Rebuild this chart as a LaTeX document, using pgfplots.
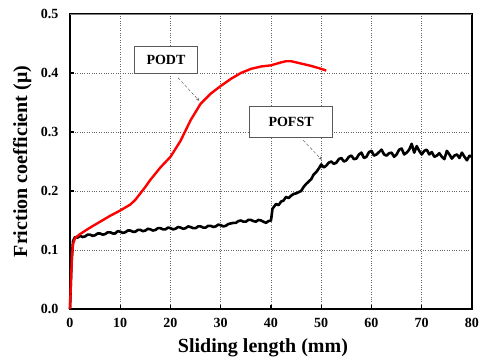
\documentclass[border=0pt]{standalone}
\usepackage{pgfplots}
\pgfplotsset{compat=1.18}
\usepackage{fontspec}
\setmainfont{Liberation Serif}
\begin{document}
\begin{tikzpicture}[font=\bfseries]
\path[use as bounding box] (-70pt,-51pt) rectangle (415pt,309pt);
\begin{axis}[
  at={(0,0)}, anchor=origin,
  scale only axis, width=402pt, height=295pt,
  xmin=0, xmax=80, ymin=0, ymax=0.5,
  xtick={0,10,...,80}, ytick={0,0.1,...,0.5},
  xtick pos=left, ytick pos=left,
  tick align=inside,
  major tick length=4pt,
  tick style={line width=1.4pt, black},
  axis line style={line width=1.2pt, black},
  grid=major,
  grid style={dotted, gray!80!black, line width=0.6pt},
  /pgf/number format/assume math mode=true,
  yticklabel style={/pgf/number format/fixed, /pgf/number format/fixed zerofill, /pgf/number format/precision=1, font=\fontsize{14}{15}\selectfont\bfseries, xshift=-8pt},
  xticklabel style={font=\fontsize{14}{15}\selectfont\bfseries, yshift=-6pt},
  xlabel={Sliding length (mm)},
  ylabel={Friction coefficient (μ)},
  xlabel style={font=\fontsize{20}{22}\selectfont\bfseries, at={(axis description cs:0.48,-0.149)}, anchor=base},
  ylabel style={font=\fontsize{20}{22}\selectfont\bfseries, at={(axis description cs:-0.119,0.5)}, anchor=center},
  clip=false,
]
\draw[gray, line width=0.8pt] (rel axis cs:0,1) -- (rel axis cs:1,1);
% POFST (black)
\addplot[black, line width=2.6pt, line join=round] coordinates {
(0,0) (0.3,0.08) (0.6,0.115) (1,0.122) (1.5,0.121) (2,0.124) (2.5,0.122) (3,0.123) (3.5,0.126) (4,0.126) (4.5,0.124) (5,0.125) (5.5,0.128) (6,0.128) (6.5,0.126) (7,0.127) (7.5,0.13) (8,0.13) (8.5,0.128) (9,0.128) (9.5,0.132) (10,0.131) (10.5,0.129) (11,0.13) (11.5,0.133) (12,0.133) (12.5,0.131) (13,0.131) (13.5,0.134) (14,0.134) (14.5,0.132) (15,0.133) (15.5,0.136) (16,0.135) (16.5,0.133) (17,0.134) (17.5,0.137) (18,0.137) (18.5,0.135) (19,0.135) (19.5,0.138) (20,0.137) (20.5,0.135) (21,0.136) (21.5,0.139) (22,0.138) (22.5,0.136) (23,0.137) (23.5,0.14) (24,0.139) (24.5,0.137) (25,0.137) (25.5,0.14) (26,0.14) (26.5,0.138) (27,0.138) (27.5,0.141) (28,0.141) (28.5,0.139) (29,0.14) (29.5,0.143) (30,0.142) (30.5,0.14) (31,0.141) (31.5,0.144) (32,0.145) (32.5,0.146) (33,0.146) (33.5,0.149) (34,0.15) (34.5,0.148) (35,0.148) (35.5,0.151) (36,0.151) (36.5,0.149) (37,0.148) (37.5,0.151) (38,0.15) (38.5,0.148) (39,0.146) (39.5,0.149) (40,0.15) (40.3,0.17) (41,0.178) (41.5,0.176) (42,0.182) (42.5,0.184) (43,0.19) (43.5,0.188) (44,0.192) (44.5,0.195) (45,0.196) (45.5,0.198) (46,0.2) (46.5,0.207) (47,0.212) (47.5,0.216) (48,0.22) (48.5,0.228) (49,0.232) (49.5,0.238) (50,0.245) (50.5,0.24) (51,0.243) (51.5,0.248) (52,0.25) (52.5,0.246) (53,0.248) (53.5,0.254) (54,0.256) (54.5,0.25) (55,0.252) (55.5,0.258) (56,0.26) (56.5,0.254) (57,0.255) (57.5,0.262) (58,0.265) (58.5,0.256) (59,0.258) (59.5,0.266) (60,0.268) (60.5,0.26) (61,0.262) (61.5,0.266) (62,0.27) (62.5,0.262) (63,0.26) (63.5,0.264) (64,0.265) (64.5,0.258) (65,0.262) (65.5,0.27) (66,0.272) (66.5,0.262) (67,0.265) (67.5,0.27) (68,0.28) (68.5,0.265) (69,0.276) (69.5,0.268) (70,0.262) (70.5,0.268) (71,0.27) (71.5,0.262) (72,0.266) (72.5,0.258) (73,0.26) (73.5,0.264) (74,0.258) (74.5,0.254) (75,0.268) (75.5,0.262) (76,0.255) (76.5,0.26) (77,0.262) (77.5,0.256) (78,0.265) (78.5,0.258) (79,0.252) (79.5,0.26) (80,0.258)
};
% PODT (red)
\addplot[red, line width=2.4pt, line join=round] coordinates {
(0,0) (0.2,0.05) (0.4,0.09) (0.6,0.11) (1,0.12) (2,0.127) (4,0.138) (6,0.148) (8,0.158) (10,0.167) (12,0.177) (13,0.185) (14,0.196) (15,0.207) (16,0.219) (18,0.24) (20,0.258) (22,0.285) (24,0.32) (26,0.348) (28,0.365) (30,0.378) (32,0.39) (34,0.4) (36,0.407) (38,0.411) (40,0.413) (42,0.418) (43,0.42) (44,0.42) (46,0.416) (48,0.412) (50,0.407) (51,0.404)
};
\draw[densely dashed, gray!60!black, -stealth] (axis cs:21.5,0.392) -- (axis cs:25.7,0.353);
\draw[densely dashed, gray!60!black, -stealth] (axis cs:46.4,0.286) -- (axis cs:50.1,0.253);
\node[draw=gray!70!black, fill=white, font=\fontsize{14}{16}\selectfont\bfseries, minimum width=63pt, minimum height=27pt] at (axis cs:19.1,0.422) {PODT};
\node[draw=gray!70!black, fill=white, font=\fontsize{14}{16}\selectfont\bfseries, minimum width=83pt, minimum height=31pt] at (axis cs:44,0.317) {POFST};
\end{axis}
\end{tikzpicture}
\end{document}
